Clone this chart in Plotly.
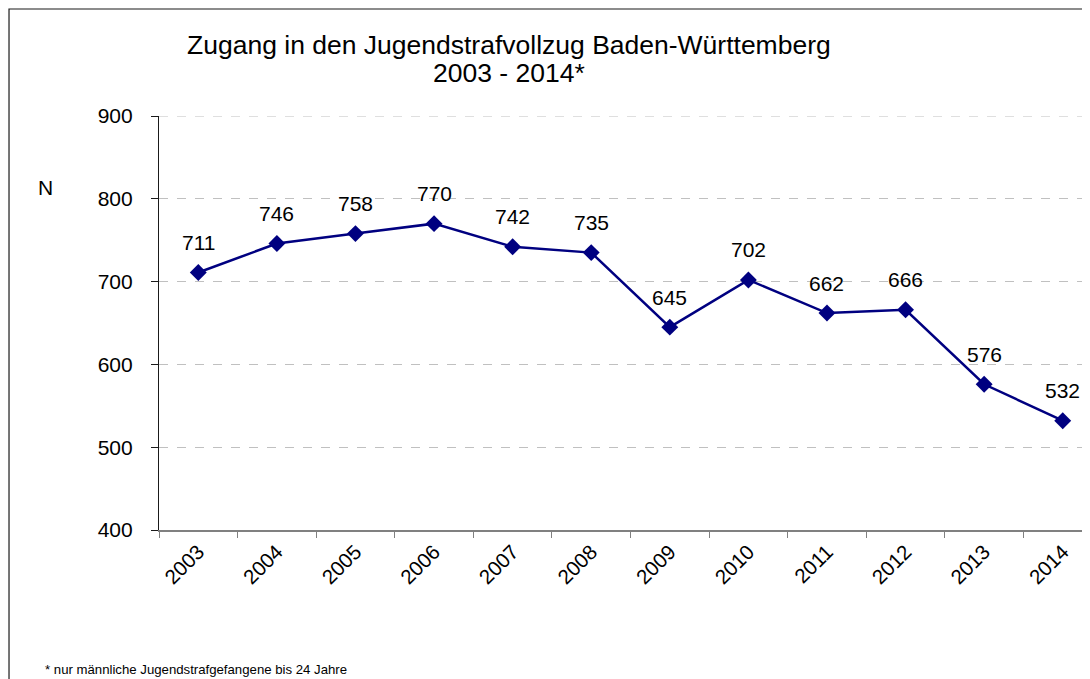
import plotly.graph_objects as go

# ======================================================
# Data
# ======================================================
years = ["2003", "2004", "2005", "2006", "2007", "2008",
         "2009", "2010", "2011", "2012", "2013", "2014"]
zugang = [711, 746, 758, 770, 742, 735, 645, 702, 662, 666, 576, 532]
y_ticks = [400, 500, 600, 700, 800, 900]

title_line1 = "Zugang in den Jugendstrafvollzug Baden-Württemberg"
title_line2 = "2003 - 2014*"
footnote = "* nur männliche Jugendstrafgefangene bis 24 Jahre"

FONT = "Liberation Sans, Arial, sans-serif"
NAVY = "#000080"

fig = go.Figure()

fig.add_trace(go.Scatter(
    x=years,
    y=zugang,
    mode="lines+markers",
    line=dict(color=NAVY, width=2.5),
    marker=dict(symbol="diamond", size=13, color=NAVY),
    showlegend=False,
    hoverinfo="x+y",
))

# data labels above the points (category index as x)
for i, val in enumerate(zugang):
    fig.add_annotation(
        x=i, y=val, text=str(val),
        showarrow=False, yshift=30,
        font=dict(family=FONT, size=21, color="black"),
    )

# chart title (two lines)
fig.add_annotation(
    xref="paper", yref="paper", x=0.376, y=1.0, yshift=71,
    text=title_line1, showarrow=False, xanchor="center", yanchor="middle",
    font=dict(family=FONT, size=26.5, color="black"),
)
fig.add_annotation(
    xref="paper", yref="paper", x=0.376, y=1.0, yshift=43,
    text=title_line2, showarrow=False, xanchor="center", yanchor="middle",
    font=dict(family=FONT, size=26.5, color="black"),
)

# axis label "N"
fig.add_annotation(
    xref="paper", yref="paper", x=-0.122, y=1.0, yshift=-71,
    text="N", showarrow=False, xanchor="center", yanchor="middle",
    font=dict(family=FONT, size=21, color="black"),
)

# footnote
fig.add_annotation(
    xref="paper", yref="paper", x=-0.1245, y=0.0, yshift=-139,
    text=footnote, showarrow=False, xanchor="left", yanchor="middle",
    font=dict(family=FONT, size=13.2, color="black"),
)

# top gridline at 900 (plotly drops the grid at the range edge)
fig.add_shape(
    type="line", xref="paper", yref="y",
    x0=0, x1=1, y0=y_ticks[-1], y1=y_ticks[-1],
    line=dict(color="#c0c0c0", width=1, dash="dash"),
)

# outer chart border (runs past right and bottom edge of the page)
fig.add_shape(
    type="rect", xref="paper", yref="paper",
    x0=-0.1611, y0=-1.0, x1=1.2, y1=1.2585,
    line=dict(color="#1a1a1a", width=1.2),
    fillcolor="rgba(0,0,0,0)", layer="below",
)

fig.update_xaxes(
    type="category",
    range=[-0.5, 11.347],
    tickson="boundaries",
    ticks="outside", ticklen=6, tickcolor="#808080",
    showline=True, linecolor="#808080", linewidth=1.5,
    showgrid=False,
    tickangle=-45,
    tickfont=dict(family=FONT, size=20.5, color="black"),
)

fig.update_yaxes(
    range=[400, 900],
    tickvals=y_ticks,
    ticks="outside", ticklen=7, tickcolor="#1a1a1a",
    ticklabelstandoff=14,
    showline=True, linecolor="#1a1a1a", linewidth=1.2,
    showgrid=True, gridcolor="#c0c0c0", griddash="dash", gridwidth=1,
    zeroline=False,
    tickfont=dict(family=FONT, size=21, color="black"),
)

# page body adds an 8px margin, so the figure is 8px smaller than the window
fig.update_layout(
    width=1082,
    height=671,
    margin=dict(l=151, r=0, t=108, b=149),
    plot_bgcolor="white",
    paper_bgcolor="white",
    font=dict(family=FONT),
)

fig.write_html("out.html")
